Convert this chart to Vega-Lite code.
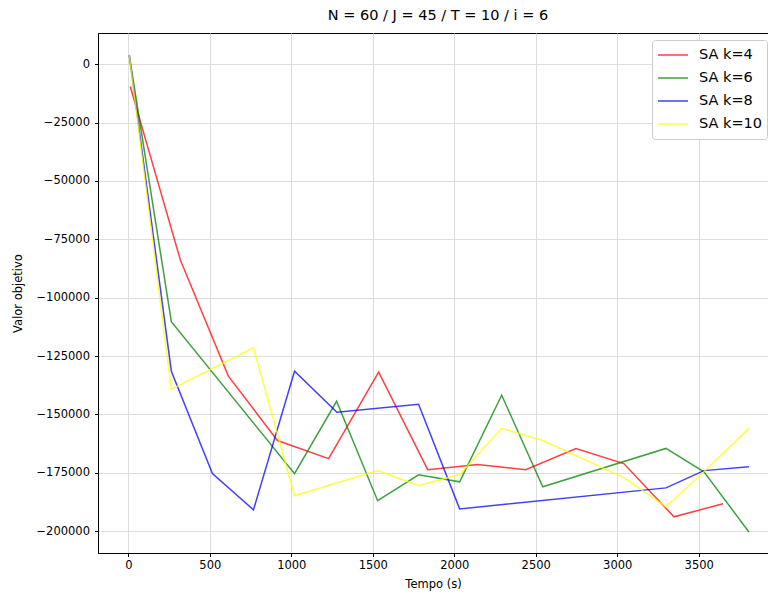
{
  "$schema": "https://vega.github.io/schema/vega-lite/v6.json",
  "autosize": "none",
  "width": 670,
  "height": 520,
  "padding": {"left": 98, "top": 33, "right": 0, "bottom": 44},
  "background": "white",
  "config": {
    "font": "DejaVu Sans",
    "view": {"stroke": "#000000", "strokeWidth": 1},
    "axis": {
      "domainColor": "#000000",
      "tickColor": "#000000",
      "tickSize": 3.5,
      "labelColor": "#000000",
      "labelFontSize": 11.5,
      "titleFontSize": 11.5,
      "titleFontWeight": "normal",
      "titleColor": "#000000",
      "gridColor": "#dddddd",
      "gridWidth": 1,
      "labelFont": "DejaVu Sans",
      "titleFont": "DejaVu Sans"
    }
  },
  "title": {
    "text": "N = 60 / J = 45 / T = 10 / i = 6",
    "fontSize": 14.5,
    "fontWeight": "normal",
    "font": "DejaVu Sans",
    "color": "#000000",
    "anchor": "middle",
    "dx": 5,
    "offset": 10
  },
  "data": {
    "values": [
      {"serie": "SA k=4", "t": 12, "v": -9500},
      {"serie": "SA k=4", "t": 320, "v": -84000},
      {"serie": "SA k=4", "t": 614, "v": -133600},
      {"serie": "SA k=4", "t": 915, "v": -161200},
      {"serie": "SA k=4", "t": 1229, "v": -169000},
      {"serie": "SA k=4", "t": 1536, "v": -131900},
      {"serie": "SA k=4", "t": 1837, "v": -173700},
      {"serie": "SA k=4", "t": 2144, "v": -171500},
      {"serie": "SA k=4", "t": 2438, "v": -173700},
      {"serie": "SA k=4", "t": 2746, "v": -164600},
      {"serie": "SA k=4", "t": 3040, "v": -171100},
      {"serie": "SA k=4", "t": 3348, "v": -193900},
      {"serie": "SA k=4", "t": 3649, "v": -188300},

      {"serie": "SA k=6", "t": 6, "v": 3800},
      {"serie": "SA k=6", "t": 264, "v": -110300},
      {"serie": "SA k=6", "t": 1020, "v": -175400},
      {"serie": "SA k=6", "t": 1278, "v": -144400},
      {"serie": "SA k=6", "t": 1530, "v": -187000},
      {"serie": "SA k=6", "t": 1781, "v": -175900},
      {"serie": "SA k=6", "t": 2033, "v": -178900},
      {"serie": "SA k=6", "t": 2291, "v": -141800},
      {"serie": "SA k=6", "t": 2543, "v": -181000},
      {"serie": "SA k=6", "t": 3299, "v": -164600},
      {"serie": "SA k=6", "t": 3532, "v": -174600},
      {"serie": "SA k=6", "t": 3808, "v": -200400},

      {"serie": "SA k=8", "t": 6, "v": 3800},
      {"serie": "SA k=8", "t": 264, "v": -131500},
      {"serie": "SA k=8", "t": 516, "v": -175400},
      {"serie": "SA k=8", "t": 768, "v": -190900},
      {"serie": "SA k=8", "t": 1020, "v": -131500},
      {"serie": "SA k=8", "t": 1280, "v": -149100},
      {"serie": "SA k=8", "t": 1781, "v": -145700},
      {"serie": "SA k=8", "t": 2033, "v": -190500},
      {"serie": "SA k=8", "t": 3299, "v": -181500},
      {"serie": "SA k=8", "t": 3532, "v": -174100},
      {"serie": "SA k=8", "t": 3808, "v": -172400},

      {"serie": "SA k=10", "t": 6, "v": 3800},
      {"serie": "SA k=10", "t": 264, "v": -139200},
      {"serie": "SA k=10", "t": 768, "v": -121500},
      {"serie": "SA k=10", "t": 1020, "v": -184900},
      {"serie": "SA k=10", "t": 1530, "v": -174100},
      {"serie": "SA k=10", "t": 1781, "v": -180600},
      {"serie": "SA k=10", "t": 2033, "v": -175800},
      {"serie": "SA k=10", "t": 2291, "v": -156000},
      {"serie": "SA k=10", "t": 2543, "v": -161200},
      {"serie": "SA k=10", "t": 3040, "v": -177100},
      {"serie": "SA k=10", "t": 3299, "v": -189600},
      {"serie": "SA k=10", "t": 3532, "v": -174600},
      {"serie": "SA k=10", "t": 3808, "v": -156000}
    ]
  },
  "mark": {"type": "line", "strokeWidth": 1.5, "opacity": 0.75, "clip": true},
  "encoding": {
    "x": {
      "field": "t",
      "type": "quantitative",
      "title": "Tempo (s)",
      "scale": {"domain": [-186, 3925], "nice": false, "zero": false},
      "axis": {"values": [0, 500, 1000, 1500, 2000, 2500, 3000, 3500], "format": "d", "labelPadding": 3, "titlePadding": 7}
    },
    "y": {
      "field": "v",
      "type": "quantitative",
      "title": "Valor objetivo",
      "scale": {"domain": [-209400, 13400], "nice": false, "zero": false},
      "axis": {"values": [0, -25000, -50000, -75000, -100000, -125000, -150000, -175000, -200000], "format": "d", "labelPadding": 5, "titlePadding": 12}
    },
    "color": {
      "field": "serie",
      "type": "nominal",
      "sort": ["SA k=4", "SA k=6", "SA k=8", "SA k=10"],
      "scale": {"domain": ["SA k=4", "SA k=6", "SA k=8", "SA k=10"], "range": ["#ff0000", "#008000", "#0000ff", "#ffff00"]},
      "legend": {
        "title": null,
        "orient": "none",
        "legendX": 554,
        "legendY": 7,
        "symbolType": "stroke",
        "symbolSize": 900,
        "symbolStrokeWidth": 1.5,
        "symbolOpacity": 0.75,
        "labelFontSize": 14.5,
        "labelFont": "DejaVu Sans",
        "labelColor": "#000000",
        "labelOffset": 10,
        "rowPadding": 3,
        "clipHeight": 20,
        "padding": 5,
        "fillColor": "white",
        "strokeColor": "#cccccc",
        "cornerRadius": 3
      }
    },
    "order": {"field": "t", "type": "quantitative"}
  }
}
